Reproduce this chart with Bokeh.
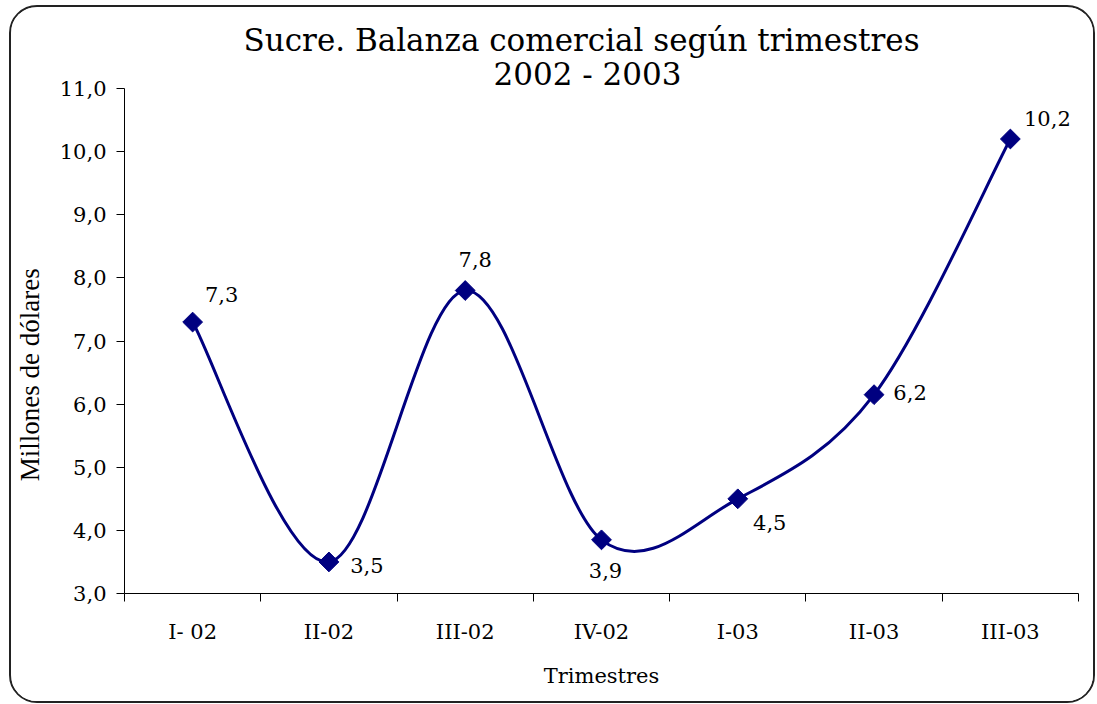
import numpy as np
from bokeh.plotting import figure
from bokeh.models import Range1d, FixedTicker, ColumnDataSource, Title
from bokeh.core.properties import value
from bokeh.embed import file_html
from bokeh.resources import INLINE

# ---- data ----
categories = ["I- 02", "II-02", "III-02", "IV-02", "I-03", "II-03", "III-03"]
values = [7.3, 3.5, 7.8, 3.85, 4.5, 6.15, 10.2]
value_labels = ["7,3", "3,5", "7,8", "3,9", "4,5", "6,2", "10,2"]
y_ticks = [3, 4, 5, 6, 7, 8, 9, 10, 11]
y_tick_labels = ["3,0", "4,0", "5,0", "6,0", "7,0", "8,0", "9,0", "10,0", "11,0"]
title_lines = ["Sucre. Balanza comercial según trimestres", "2002 - 2003"]
x_title = "Trimestres"
y_title = "Millones de dólares"

# ---- style ----
FONT = "DejaVu Serif"
YFONT = "Liberation Serif"
NAVY = "#000080"
label_dx = [29, 38, 10, 4, 32, 36, 37]
label_dy = [-28, 4, -31, 31, 24, -2, -21]

n = len(categories)
xs = np.arange(1, n + 1, dtype=float)
ys = np.array(values, dtype=float)

p = figure(
    frame_width=954, frame_height=505,
    min_border_left=113, min_border_right=15, min_border_top=81, min_border_bottom=108,
    x_range=Range1d(0.5, n + 0.5), y_range=Range1d(3, 11),
    output_backend="svg", toolbar_location=None,
)
p.styles = {"border": "2px solid #222222", "border-radius": "28px", "overflow": "hidden",
            "margin-left": "9px", "margin-top": "5px"}
p.outline_line_color = None
p.xgrid.grid_line_color = None
p.ygrid.grid_line_color = None

# smoothed line (Bezier segments built from data points)
idx = np.arange(n - 1)
prev_i = np.clip(idx - 1, 0, n - 1)
next2 = np.clip(idx + 2, 0, n - 1)
cx0 = xs[idx] + (xs[idx + 1] - xs[prev_i]) / 6.0
cy0 = ys[idx] + (ys[idx + 1] - ys[prev_i]) / 6.0
cx1 = xs[idx + 1] - (xs[next2] - xs[idx]) / 6.0
cy1 = ys[idx + 1] - (ys[next2] - ys[idx]) / 6.0
p.bezier(x0=xs[:-1], y0=ys[:-1], x1=xs[1:], y1=ys[1:], cx0=cx0, cy0=cy0, cx1=cx1, cy1=cy1,
         line_color=NAVY, line_width=3)

src = ColumnDataSource(dict(x=xs, y=ys, lab=value_labels, dx=label_dx, dy=label_dy))
p.scatter("x", "y", source=src, marker="square", angle=np.pi / 4, size=14,
          fill_color=NAVY, line_color=NAVY)
p.text("x", "y", text="lab", source=src, x_offset="dx", y_offset="dy",
       text_align="center", text_baseline="middle",
       text_font=value(FONT), text_font_size="21px", text_color="black")

# axes
p.xaxis.ticker = FixedTicker(ticks=list(xs), minor_ticks=list(np.arange(0.5, n + 1, 1.0)))
p.xaxis.major_label_overrides = {float(x): c for x, c in zip(xs, categories)}
p.xaxis.major_tick_line_color = None
p.xaxis.major_tick_out = 0
p.xaxis.major_tick_in = 0
p.xaxis.minor_tick_out = 8
p.xaxis.minor_tick_in = 0
p.xaxis.minor_tick_line_color = "black"
p.xaxis.major_label_standoff = 18
p.xaxis.axis_label = x_title
p.xaxis.axis_label_standoff = 17
p.xaxis.axis_label_text_font = FONT
p.xaxis.axis_label_text_font_size = "21px"

p.yaxis.ticker = FixedTicker(ticks=y_ticks)
p.yaxis.major_label_overrides = dict(zip(y_ticks, y_tick_labels))
p.yaxis.minor_tick_line_color = None
p.yaxis.major_tick_out = 8
p.yaxis.major_tick_in = 0
p.yaxis.major_tick_line_color = "black"
p.yaxis.major_label_standoff = 10
# trailing no-break spaces push the rotated label a little below the axis centre
p.yaxis.axis_label = y_title + "\u00a0" * 10
p.yaxis.axis_label_standoff = 12
p.yaxis.axis_label_text_font = YFONT
p.yaxis.axis_label_text_font_size = "27px"

for ax in (p.xaxis[0], p.yaxis[0]):
    ax.axis_line_color = "black"
    ax.major_label_text_font = FONT
    ax.major_label_text_font_size = "21px"
    ax.major_label_text_color = "black"
    ax.axis_label_text_font_style = "normal"
    ax.axis_label_text_color = "black"

# two-line title above the plot area (second line added first so it sits lower)
p.add_layout(Title(text=title_lines[1], align="left", offset=369, standoff=-7,
                   text_font=FONT, text_font_size="31px", text_font_style="normal",
                   text_color="black"), "above")
p.add_layout(Title(text=title_lines[0], align="left", offset=119, standoff=0,
                   text_font=FONT, text_font_size="31px", text_font_style="normal",
                   text_color="black"), "above")

open("out.html", "w").write(file_html(p, INLINE))
